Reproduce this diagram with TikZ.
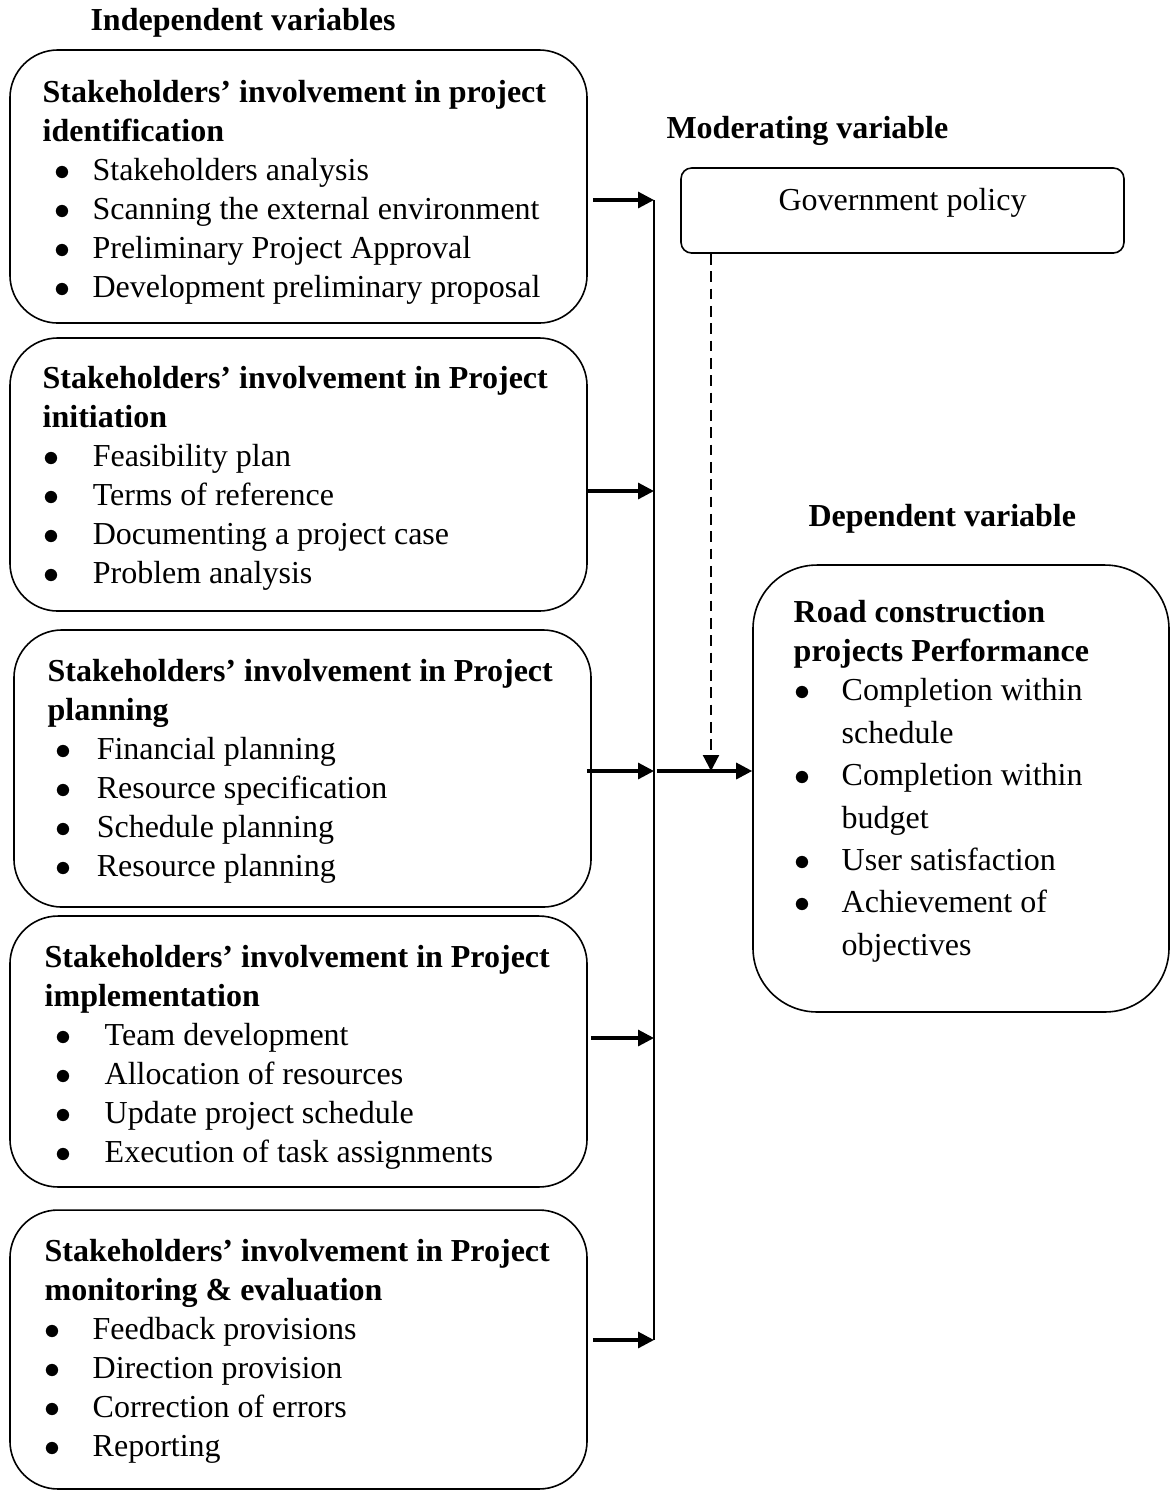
\documentclass[tikz,border=0pt]{standalone}
\usepackage{fontspec}
\setmainfont{Liberation Serif}
\usepackage{tikz}
\usetikzlibrary{arrows.meta,positioning}
\tikzstyle{stakebox} = [rectangle, rounded corners=18pt, minimum width=216.4pt, draw=black, line width=0.6pt]
\tikzstyle{itemtext} = [align=left, inner sep=0pt, anchor=north west, font=\fontsize{12pt}{14.6pt}\selectfont]
\tikzstyle{heading} = [inner sep=0pt, anchor=base west, font=\fontsize{12pt}{14.6pt}\selectfont\bfseries]
\tikzstyle{arrow} = [line width=1.2pt, -{Triangle[length=6pt,width=6pt]}]
\tikzstyle{bus} = [line width=0.7pt]
\tikzstyle{dasharrow} = [line width=0.8pt, dash pattern=on 4pt off 2.5pt, -{Triangle[length=6pt,width=6pt]}]
\newcommand{\bul}[2]{\hspace*{#1}\makebox[#2][l]{$\bullet$}}

\begin{document}
\begin{tikzpicture}[x=0.375pt, y=-0.375pt]
\useasboundingbox (0,0) rectangle (1171,1491);

% Headings
\node (indep) [heading] at (90,30) {Independent variables};
\node (moder) [heading] at (666,138) {Moderating variable};
\node (dep) [heading] at (808,526) {Dependent variable};

% Independent variables
\node (idn) [stakebox, minimum height=102.4pt] at (298.5,186.5) {};
\node (idntxt) [itemtext] at ([shift={(33,31)}]idn.north west) {\textbf{Stakeholders’ involvement in project}\\
  \textbf{identification}\\
  \bul{4.6pt}{14.1pt}Stakeholders analysis\\
  \bul{4.6pt}{14.1pt}Scanning the external environment\\
  \bul{4.6pt}{14.1pt}Preliminary Project Approval\\
  \bul{4.6pt}{14.1pt}Development preliminary proposal};

\node (ini) [stakebox, minimum height=102.4pt] at (298.5,474.5) {};
\node (initxt) [itemtext] at ([shift={(33,29)}]ini.north west) {\textbf{Stakeholders’ involvement in Project}\\
  \textbf{initiation}\\
  \bul{0.2pt}{18.6pt}Feasibility plan\\
  \bul{0.2pt}{18.6pt}Terms of reference\\
  \bul{0.2pt}{18.6pt}Documenting a project case\\
  \bul{0.2pt}{18.6pt}Problem analysis};

\node (pln) [stakebox, minimum height=103.9pt] at (302.5,768.5) {};
\node (plntxt) [itemtext] at ([shift={(34,30)}]pln.north west) {\textbf{Stakeholders’ involvement in Project}\\
  \textbf{planning}\\
  \bul{2.8pt}{15.6pt}Financial planning\\
  \bul{2.8pt}{15.6pt}Resource specification\\
  \bul{2.8pt}{15.6pt}Schedule planning\\
  \bul{2.8pt}{15.6pt}Resource planning};

\node (imp) [stakebox, minimum height=101.6pt] at (298.5,1051.5) {};
\node (imptxt) [itemtext] at ([shift={(35,30)}]imp.north west) {\textbf{Stakeholders’ involvement in Project}\\
  \textbf{implementation}\\
  \bul{3.9pt}{18.6pt}Team development\\
  \bul{3.9pt}{18.6pt}Allocation of resources\\
  \bul{3.9pt}{18.6pt}Update project schedule\\
  \bul{3.9pt}{18.6pt}Execution of task assignments};

\node (mne) [stakebox, minimum height=104.6pt] at (298.5,1349.5) {};
\node (mnetxt) [itemtext] at ([shift={(35,30)}]mne.north west) {\textbf{Stakeholders’ involvement in Project}\\
  \textbf{monitoring \& evaluation}\\
  \bul{0pt}{18pt}Feedback provisions\\
  \bul{0pt}{18pt}Direction provision\\
  \bul{0pt}{18pt}Correction of errors\\
  \bul{0pt}{18pt}Reporting};

% Moderating variable
\node (gov) [stakebox, rounded corners=4pt, minimum width=166.1pt, minimum height=31.9pt] at (902.5,210.5) {};
\node (govtxt) [inner sep=0pt, anchor=base, font=\fontsize{12pt}{14.6pt}\selectfont] at ([shift={(0,43)}]gov.north) {Government policy};

% Dependent variable
\node (road) [stakebox, rounded corners=24pt, minimum width=156pt, minimum height=167.6pt] at (961,788.5) {};
\node (roadtxt) [itemtext] at ([shift={(41,36)}]road.north west) {\textbf{Road construction}\\
  \textbf{projects Performance}\\
  \bul{0.2pt}{17.8pt}Completion within\\[1.3pt]
  \hspace*{18pt}schedule\\[1.3pt]
  \bul{0.2pt}{17.8pt}Completion within\\[1.3pt]
  \hspace*{18pt}budget\\[1.3pt]
  \bul{0.2pt}{17.8pt}User satisfaction\\[1.3pt]
  \bul{0.2pt}{17.8pt}Achievement of\\[1.3pt]
  \hspace*{18pt}objectives};

% Connectors
\coordinate (bus1) at (654,200);
\coordinate (bus2) at (654,491);
\coordinate (bus3) at (654,771);
\coordinate (bus4) at (654,1038);
\coordinate (bus5) at (654,1340);
\coordinate (jn) at (711,771);
\draw[bus] (bus1) -- (bus5);
\draw[arrow] ([xshift=1.9pt]idn.east |- bus1) -- (bus1);
\draw[arrow] (ini.east |- bus2) -- (bus2);
\draw[arrow] ([xshift=-1.9pt]pln.east |- bus3) -- (bus3);
\draw[arrow] ([xshift=1.1pt]imp.east |- bus4) -- (bus4);
\draw[arrow] ([xshift=1.9pt]mne.east |- bus5) -- (bus5);
\draw[arrow] ([xshift=1pt]bus3) -- (road.west |- bus3);
\draw[dasharrow] (gov.south -| jn) -- (jn);
\end{tikzpicture}
\end{document}
